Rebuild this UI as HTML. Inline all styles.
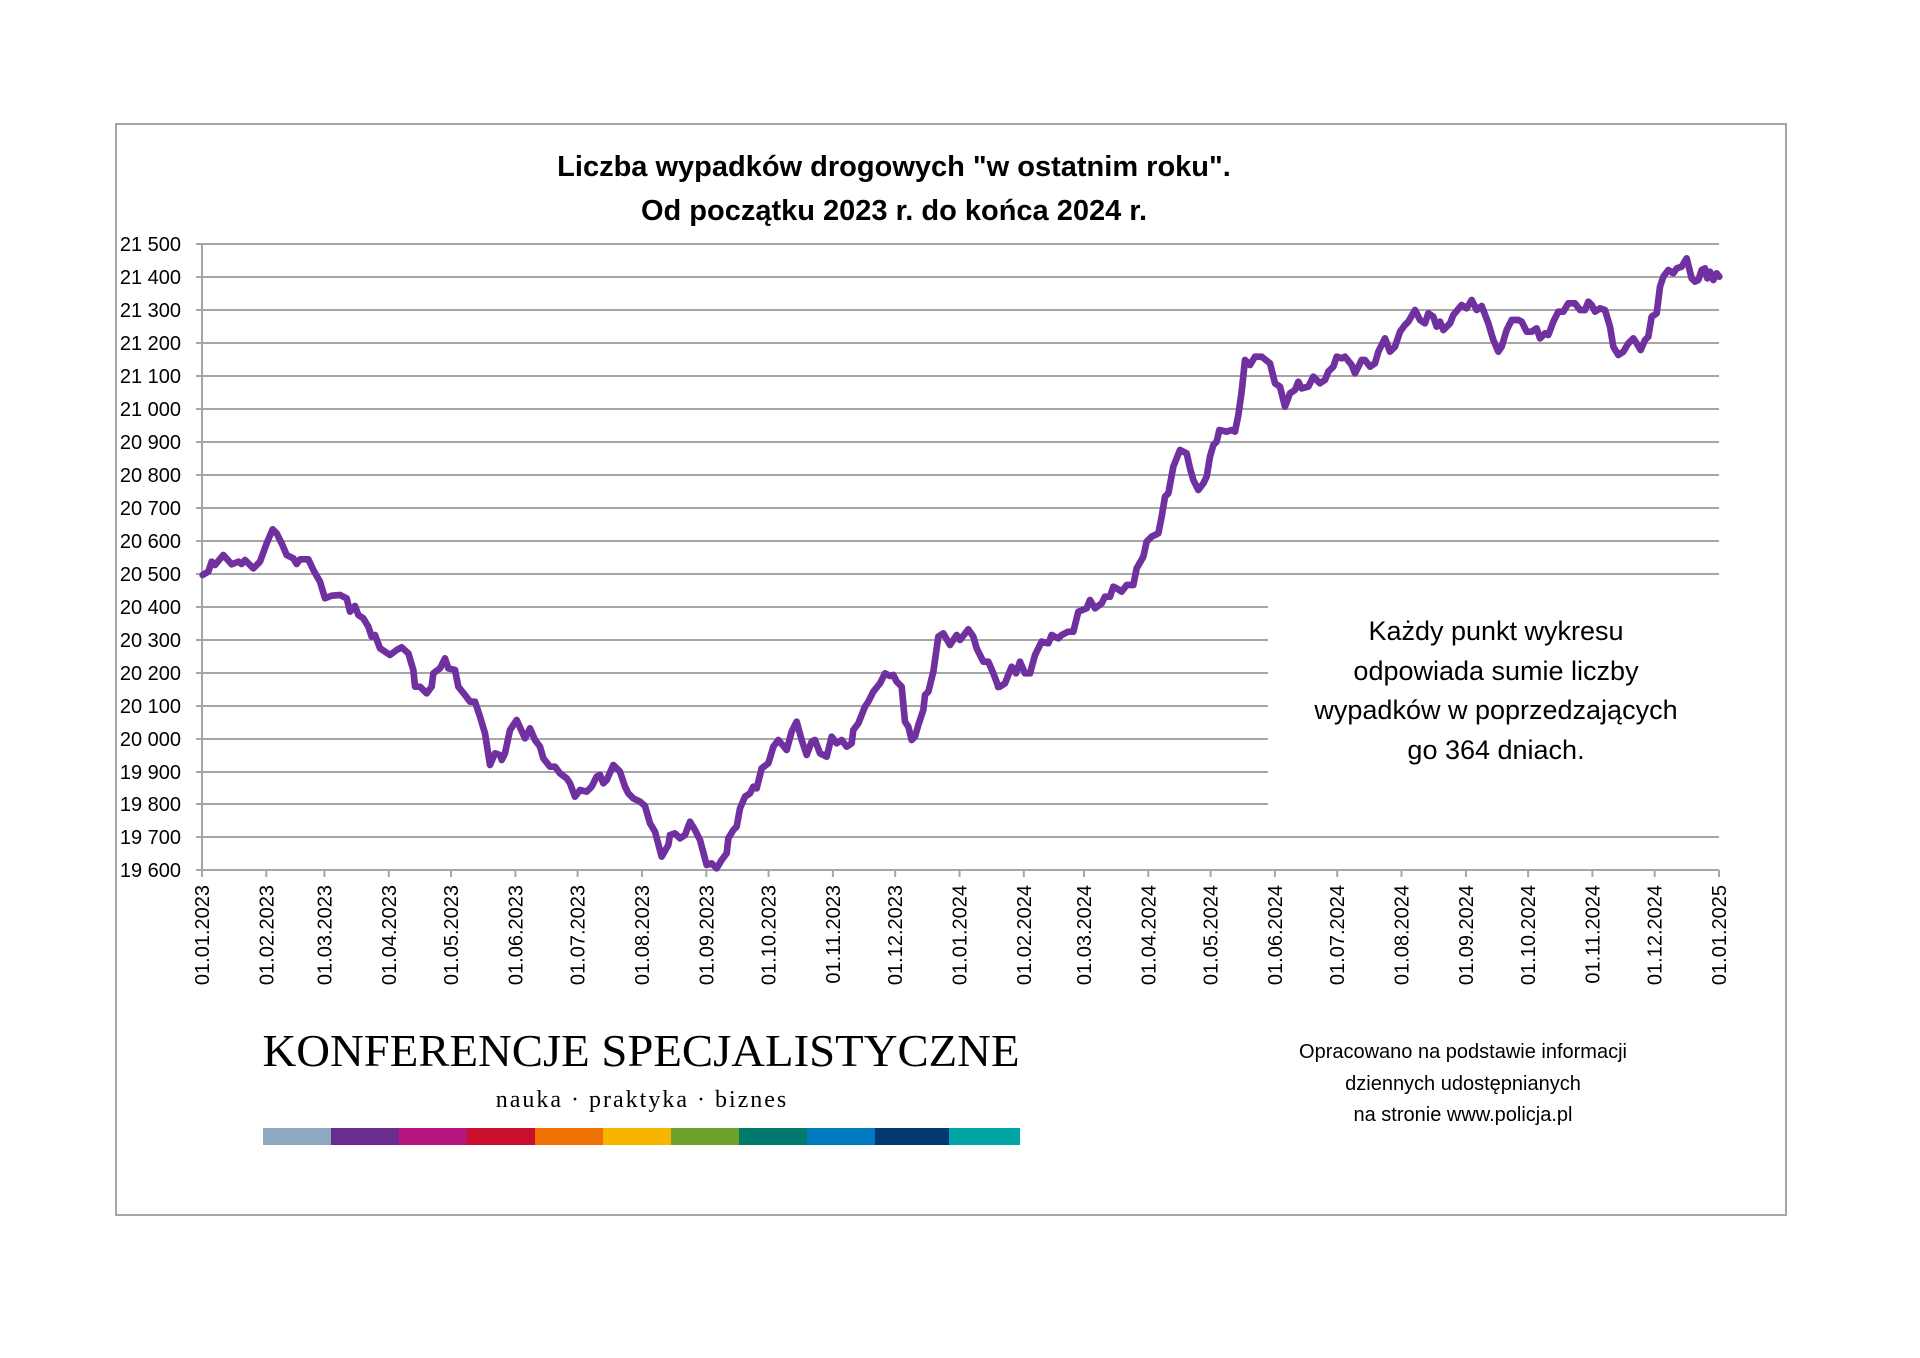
<!DOCTYPE html>
<html><head><meta charset="utf-8"><style>
html,body{margin:0;padding:0;background:#fff;}
svg{display:block;}
text{font-family:"Liberation Sans","DejaVu Sans",sans-serif;fill:#000;}
</style></head><body>
<svg width="1920" height="1358" viewBox="0 0 1920 1358" xmlns="http://www.w3.org/2000/svg">
<rect x="116" y="124" width="1670" height="1091" fill="#fff" stroke="#A6A6A6" stroke-width="2"/>
<text x="894" y="176" font-size="29" font-weight="bold" text-anchor="middle">Liczba wypadków drogowych "w ostatnim roku".</text>
<text x="894" y="220" font-size="29" font-weight="bold" text-anchor="middle">Od początku 2023 r. do końca 2024 r.</text>
<g stroke="#A6A6A6" stroke-width="2">
<line x1="196" y1="244" x2="1719" y2="244"/>
<line x1="196" y1="277" x2="1719" y2="277"/>
<line x1="196" y1="310" x2="1719" y2="310"/>
<line x1="196" y1="343" x2="1719" y2="343"/>
<line x1="196" y1="376" x2="1719" y2="376"/>
<line x1="196" y1="409" x2="1719" y2="409"/>
<line x1="196" y1="442" x2="1719" y2="442"/>
<line x1="196" y1="475" x2="1719" y2="475"/>
<line x1="196" y1="508" x2="1719" y2="508"/>
<line x1="196" y1="541" x2="1719" y2="541"/>
<line x1="196" y1="574" x2="1719" y2="574"/>
<line x1="196" y1="607" x2="1268" y2="607"/>
<line x1="196" y1="640" x2="1268" y2="640"/>
<line x1="196" y1="673" x2="1268" y2="673"/>
<line x1="196" y1="706" x2="1268" y2="706"/>
<line x1="196" y1="739" x2="1268" y2="739"/>
<line x1="196" y1="772" x2="1268" y2="772"/>
<line x1="196" y1="804" x2="1268" y2="804"/>
<line x1="196" y1="837" x2="1719" y2="837"/>
<line x1="196" y1="870" x2="1719" y2="870"/>
<line x1="202" y1="244" x2="202" y2="877"/>
<line x1="266.3" y1="870" x2="266.3" y2="877"/><line x1="324.4" y1="870" x2="324.4" y2="877"/><line x1="388.8" y1="870" x2="388.8" y2="877"/><line x1="451" y1="870" x2="451" y2="877"/><line x1="515.4" y1="870" x2="515.4" y2="877"/><line x1="577.6" y1="870" x2="577.6" y2="877"/><line x1="642" y1="870" x2="642" y2="877"/><line x1="706.3" y1="870" x2="706.3" y2="877"/><line x1="768.6" y1="870" x2="768.6" y2="877"/><line x1="832.9" y1="870" x2="832.9" y2="877"/><line x1="895.2" y1="870" x2="895.2" y2="877"/><line x1="959.5" y1="870" x2="959.5" y2="877"/><line x1="1023.8" y1="870" x2="1023.8" y2="877"/><line x1="1084" y1="870" x2="1084" y2="877"/><line x1="1148.3" y1="870" x2="1148.3" y2="877"/><line x1="1210.6" y1="870" x2="1210.6" y2="877"/><line x1="1274.9" y1="870" x2="1274.9" y2="877"/><line x1="1337.2" y1="870" x2="1337.2" y2="877"/><line x1="1401.5" y1="870" x2="1401.5" y2="877"/><line x1="1465.9" y1="870" x2="1465.9" y2="877"/><line x1="1528.1" y1="870" x2="1528.1" y2="877"/><line x1="1592.4" y1="870" x2="1592.4" y2="877"/><line x1="1654.7" y1="870" x2="1654.7" y2="877"/><line x1="1719" y1="870" x2="1719" y2="877"/>
</g>
<g font-size="20" text-anchor="end">
<text x="181" y="251">21 500</text><text x="181" y="284">21 400</text><text x="181" y="317">21 300</text><text x="181" y="350">21 200</text><text x="181" y="383">21 100</text><text x="181" y="416">21 000</text><text x="181" y="449">20 900</text><text x="181" y="482">20 800</text><text x="181" y="515">20 700</text><text x="181" y="548">20 600</text><text x="181" y="581">20 500</text><text x="181" y="614">20 400</text><text x="181" y="647">20 300</text><text x="181" y="680">20 200</text><text x="181" y="713">20 100</text><text x="181" y="746">20 000</text><text x="181" y="779">19 900</text><text x="181" y="811">19 800</text><text x="181" y="844">19 700</text><text x="181" y="877">19 600</text>
</g>
<g font-size="20" text-anchor="end">
<text transform="translate(209,885) rotate(-90)">01.01.2023</text>
<text transform="translate(273.3,885) rotate(-90)">01.02.2023</text>
<text transform="translate(331.4,885) rotate(-90)">01.03.2023</text>
<text transform="translate(395.8,885) rotate(-90)">01.04.2023</text>
<text transform="translate(458,885) rotate(-90)">01.05.2023</text>
<text transform="translate(522.4,885) rotate(-90)">01.06.2023</text>
<text transform="translate(584.6,885) rotate(-90)">01.07.2023</text>
<text transform="translate(649,885) rotate(-90)">01.08.2023</text>
<text transform="translate(713.3,885) rotate(-90)">01.09.2023</text>
<text transform="translate(775.6,885) rotate(-90)">01.10.2023</text>
<text transform="translate(839.9,885) rotate(-90)">01.11.2023</text>
<text transform="translate(902.2,885) rotate(-90)">01.12.2023</text>
<text transform="translate(966.5,885) rotate(-90)">01.01.2024</text>
<text transform="translate(1030.8,885) rotate(-90)">01.02.2024</text>
<text transform="translate(1091,885) rotate(-90)">01.03.2024</text>
<text transform="translate(1155.3,885) rotate(-90)">01.04.2024</text>
<text transform="translate(1217.6,885) rotate(-90)">01.05.2024</text>
<text transform="translate(1281.9,885) rotate(-90)">01.06.2024</text>
<text transform="translate(1344.2,885) rotate(-90)">01.07.2024</text>
<text transform="translate(1408.5,885) rotate(-90)">01.08.2024</text>
<text transform="translate(1472.9,885) rotate(-90)">01.09.2024</text>
<text transform="translate(1535.1,885) rotate(-90)">01.10.2024</text>
<text transform="translate(1599.4,885) rotate(-90)">01.11.2024</text>
<text transform="translate(1661.7,885) rotate(-90)">01.12.2024</text>
<text transform="translate(1726,885) rotate(-90)">01.01.2025</text>
</g>
<g fill="none" stroke="#7030A0" stroke-width="20" stroke-linejoin="round" stroke-linecap="round">
<polyline transform="translate(200,500) scale(0.33333)" points="8,225 25,215 35,185 45,195 70,165 95,193 115,185 125,192 135,180 160,205 180,185 200,130 218,88 230,100 245,130 260,165 280,175 290,192 300,178 325,178 340,210 360,245 375,295 395,287 420,285 440,295 450,335 465,318 475,345 490,355 505,380 515,410 525,405 540,445 570,465 590,450 605,442 625,460 640,510 645,560 660,560 680,580 695,560 700,520 720,505 735,475 745,505 765,510 775,560 795,585 810,605 825,605 840,650 855,700 870,795 885,760 900,765 905,780 915,760 930,690 950,660 975,715 990,685 1005,720 1020,740 1030,775 1050,800 1065,800 1080,820 1100,835 1110,850 1125,890 1140,870 1160,875 1175,860 1190,830 1200,825"/>
<polyline transform="translate(580,600) scale(0.33333)" points="60,525 70,550 80,540 100,495 120,515 135,560 145,580 160,595 180,605 195,618 210,670 225,695 245,770 265,735 270,705 285,700 300,715 315,705 330,665 345,690 360,720 380,795 395,790 410,805 425,780 440,760 445,715 460,690 470,680 480,625 495,590 510,580 520,560 530,565 545,505 565,490 580,440 595,420 620,450 635,395 650,365 665,420 680,465 695,425 705,420 720,460 740,470 755,410 770,430 785,420 800,440 815,430 820,390 835,370 855,320 865,305 880,275 900,250 915,220 930,228 940,225 950,245 965,260 975,365 985,380 995,420 1005,410 1015,375 1030,330 1035,285 1045,275 1060,215 1075,110 1090,100 1110,135 1130,105 1140,120 1165,88 1180,110 1190,145 1210,185 1225,185 1240,220 1255,260"/>
<polyline transform="translate(980,330) scale(0.33333)" points="54,1071 60,1070 75,1060 95,1010 108,1030 120,995 135,1030 150,1030 165,975 185,935 205,940 215,915 235,925 245,915 265,905 280,905 295,845 320,835 330,810 345,835 365,820 375,800 390,800 400,770 410,775 425,785 440,765 460,765 470,715 490,680 500,635 515,620 535,610 545,560 555,500 565,490 580,410 600,360 620,370 630,415 640,450 655,480 670,460 680,440 690,380 700,345 710,335 718,300 740,305 755,300 765,305 775,255 785,185 795,90 810,105 825,80 845,80 870,100 885,160 900,170 915,230 930,190 945,180 955,155 965,175 985,170 1000,140 1020,160"/>
<polyline transform="translate(1280,240) scale(0.33333)" points="120,429 135,420 145,395 160,380 170,350 185,355 195,350 215,375 225,400 245,360 255,360 270,380 285,370 295,335 315,295 330,335 345,320 360,275 375,255 385,245 405,210 420,240 435,250 445,220 460,230 470,260 480,245 490,270 510,250 520,225 545,195 560,205 575,180 590,210 605,198 625,250 640,300 655,335 665,320 680,270 695,240 715,240 725,245 740,275 755,275 770,265 780,295 795,280 805,285 820,245 835,215 850,215 865,190 885,190 900,210 915,210 925,185 935,195 945,215 960,205 975,210 990,260 1000,320 1015,345 1030,335 1045,310 1060,295 1070,310 1082,330 1095,300 1105,290 1115,230 1130,220 1140,140 1150,110 1165,90 1180,100 1190,85 1205,80 1220,55 1235,115 1245,125 1255,120 1265,90 1275,85 1282,115 1290,95 1300,120 1310,100 1318,110"/>
</g>
<g font-size="27" text-anchor="middle" fill="#222">
<text x="1496" y="640">Każdy punkt wykresu</text>
<text x="1496" y="680">odpowiada sumie liczby</text>
<text x="1496" y="719">wypadków w poprzedzających</text>
<text x="1496" y="759">go 364 dniach.</text>
</g>
<g font-size="20" text-anchor="middle">
<text x="1463" y="1058">Opracowano na podstawie informacji</text>
<text x="1463" y="1090">dziennych udostępnianych</text>
<text x="1463" y="1121">na stronie www.policja.pl</text>
</g>
<text x="641" y="1066" font-size="46" text-anchor="middle" textLength="757" lengthAdjust="spacingAndGlyphs" style="font-family:'Liberation Serif',serif">KONFERENCJE SPECJALISTYCZNE</text>
<text x="642" y="1107" font-size="24" text-anchor="middle" letter-spacing="2" style="font-family:'Liberation Serif',serif">nauka · praktyka · biznes</text>
<g>
<rect x="263" y="1128" width="68" height="17" fill="#8EA9C1"/>
<rect x="331" y="1128" width="68" height="17" fill="#6B2C8F"/>
<rect x="399" y="1128" width="68" height="17" fill="#B5177E"/>
<rect x="467" y="1128" width="68" height="17" fill="#C8102E"/>
<rect x="535" y="1128" width="68" height="17" fill="#EE7203"/>
<rect x="603" y="1128" width="68" height="17" fill="#F7B500"/>
<rect x="671" y="1128" width="68" height="17" fill="#6FA22B"/>
<rect x="739" y="1128" width="68" height="17" fill="#007A6C"/>
<rect x="807" y="1128" width="68" height="17" fill="#0079C1"/>
<rect x="875" y="1128" width="74" height="17" fill="#003A70"/>
<rect x="949" y="1128" width="71" height="17" fill="#00A6A6"/>
</g>
</svg>
</body></html>
